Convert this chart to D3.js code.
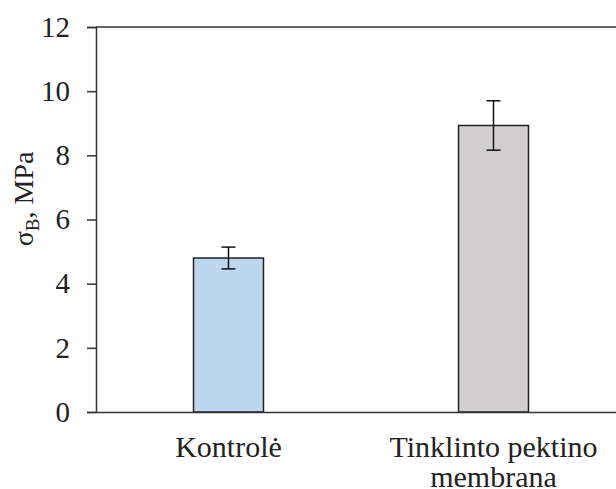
<!DOCTYPE html>
<html>
<head>
<meta charset="utf-8">
<script src="https://cdn.jsdelivr.net/npm/d3@7"></script>
<style>
  html, body { margin: 0; padding: 0; background: #fff; }
</style>
</head>
<body>
<svg id="chart" width="616" height="489"></svg>
<script>
// Tensile strength of control vs crosslinked pectin membrane
const categories = ["Kontrolė", "Tinklinto pektino membrana"];
const categoryLines = [["Kontrolė"], ["Tinklinto pektino", "membrana"]];
const values = [4.8, 8.93];
const errors = [0.34, 0.77];
const fills = ["#BDD7EE", "#D0CECE"];
const yTicks = [0, 2, 4, 6, 8, 10, 12];

const FONT = "Liberation Serif";
const svg = d3.select("#chart").attr("font-family", FONT);
const margin = { left: 96, top: 27, right: -10, bottom: 77 };
const width = 616 - margin.left - margin.right;
const height = 489 - margin.top - margin.bottom;
const g = svg.append("g").attr("transform", `translate(${margin.left},${margin.top})`);

const x = d3.scaleBand().domain(categories).range([0, width]).paddingInner(0.736).paddingOuter(0.368);
const y = d3.scaleLinear().domain([0, 12]).range([height, 0]);

const axisColor = "#333";
const textColor = "#222";

// top frame line
g.append("line").attr("x1", 0).attr("x2", width).attr("y1", 0).attr("y2", 0)
  .attr("stroke", axisColor).attr("stroke-width", 1.5);

// bars
g.selectAll("rect.bar").data(categories).enter().append("rect")
  .attr("class", "bar")
  .attr("x", d => x(d))
  .attr("y", (d, i) => y(values[i]))
  .attr("width", x.bandwidth())
  .attr("height", (d, i) => y(0) - y(values[i]))
  .attr("fill", (d, i) => fills[i])
  .attr("stroke", "#222").attr("stroke-width", 1.5);

// error bars
const cap = 7;
categories.forEach((c, i) => {
  const cx = x(c) + x.bandwidth() / 2;
  const eg = g.append("g").attr("stroke", "#111").attr("stroke-width", 1.5);
  eg.append("line").attr("x1", cx).attr("x2", cx)
    .attr("y1", y(values[i] + errors[i])).attr("y2", y(values[i] - errors[i]));
  eg.append("line").attr("x1", cx - cap).attr("x2", cx + cap)
    .attr("y1", y(values[i] + errors[i])).attr("y2", y(values[i] + errors[i]));
  eg.append("line").attr("x1", cx - cap).attr("x2", cx + cap)
    .attr("y1", y(values[i] - errors[i])).attr("y2", y(values[i] - errors[i]));
});

// y axis
const yAxis = g.append("g")
  .call(d3.axisLeft(y).tickValues(yTicks).tickSize(9).tickPadding(17).tickFormat(d3.format("d")));
yAxis.attr("font-family", FONT).attr("font-size", 29);
yAxis.select(".domain").attr("stroke", axisColor).attr("stroke-width", 1.5);
yAxis.selectAll(".tick line").attr("stroke", axisColor).attr("stroke-width", 1.5);
yAxis.selectAll(".tick text").attr("font-family", FONT).attr("font-size", 29).attr("fill", textColor);

// x axis baseline
const xAxis = g.append("g").attr("transform", `translate(0,${height})`)
  .call(d3.axisBottom(x).tickSize(0).tickFormat(""));
xAxis.select(".domain").attr("stroke", axisColor).attr("stroke-width", 1.5);

// category labels
categories.forEach((c, i) => {
  const cx = x(c) + x.bandwidth() / 2;
  const t = g.append("text").attr("text-anchor", "middle")
    .attr("font-family", FONT).attr("font-size", 30).attr("fill", textColor)
    .attr("x", cx).attr("y", height + 45);
  categoryLines[i].forEach((line, j) => {
    t.append("tspan").attr("x", cx).attr("dy", j === 0 ? 0 : 30).text(line);
  });
});

// y axis title
const yt = svg.append("text")
  .attr("transform", "translate(33,199) rotate(-90)")
  .attr("text-anchor", "middle").attr("font-family", FONT).attr("font-size", 28).attr("fill", textColor);
yt.append("tspan").text("σ");
yt.append("tspan").attr("font-size", 19).attr("dy", 6).text("B");
yt.append("tspan").attr("dy", -6).text(", MPa");
</script>
</body>
</html>
